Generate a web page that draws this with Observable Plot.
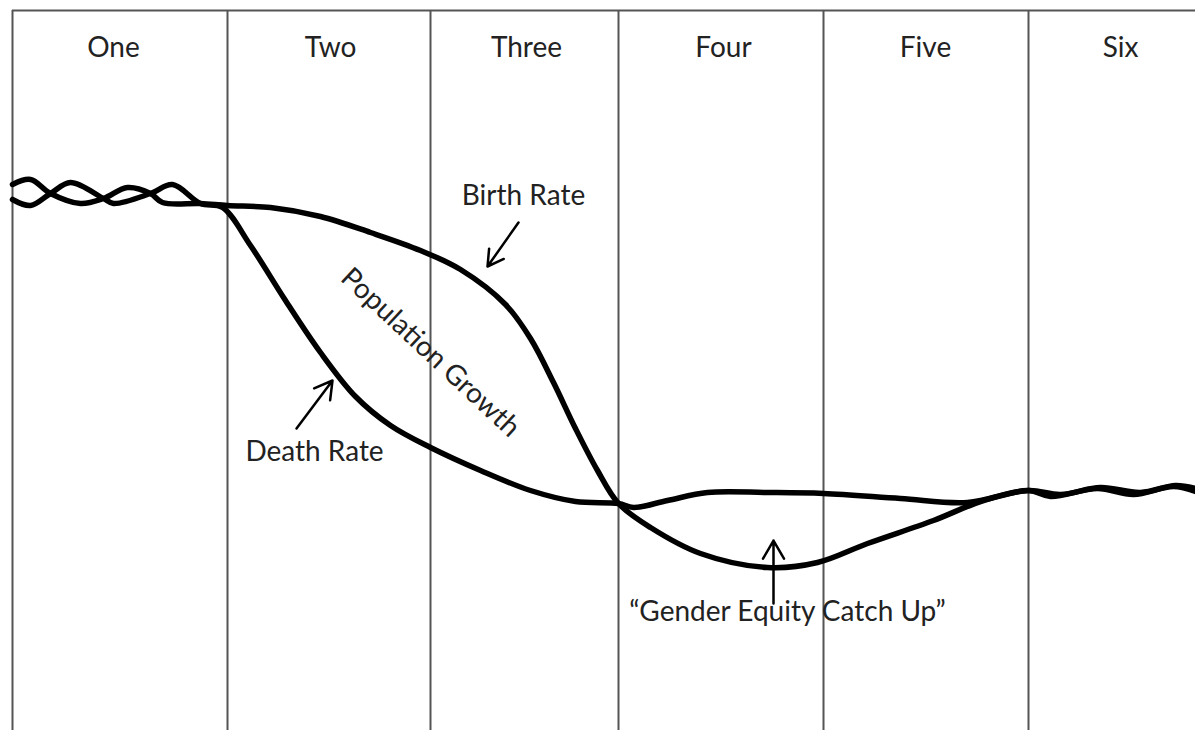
<!DOCTYPE html>
<html>
<head>
<meta charset="utf-8">
<script src="https://cdn.jsdelivr.net/npm/d3@7"></script>
<script src="https://cdn.jsdelivr.net/npm/@observablehq/plot@0.6"></script>
<style>
  html, body { margin: 0; padding: 0; background: #fff; }
  #chart svg { display: block; }
</style>
</head>
<body>
<div id="chart"></div>
<script>
// Stage names and boundaries (time units)
const stageNames = ["One", "Two", "Three", "Four", "Five", "Six"];
const stageLabelX = [113, 330, 526, 723, 925, 1120];
const stageBounds = [12, 227, 430, 618, 823, 1028];

// Birth rate (y in "depth" units, larger = lower rate)
const birthX = [12, 30, 50, 80, 103, 127, 150, 162, 200, 227, 270, 320, 370, 420, 460, 505, 530, 553, 575, 597, 618, 650, 700, 767, 817, 867, 933, 983, 1028, 1060, 1100, 1140, 1175, 1195];
const birthY = [184, 179, 193, 203, 198, 187, 193, 202, 203, 205, 207, 216, 232, 250, 269, 304, 338, 382, 428, 470, 503, 527, 553, 567, 562, 543, 520, 500, 490, 494, 487, 492, 485, 488];

// Death rate
const deathX = [12, 30, 50, 70, 103, 113, 150, 172, 200, 222, 250, 285, 320, 355, 390, 430, 480, 530, 575, 618, 633, 667, 707, 767, 823, 900, 967, 1028, 1050, 1097, 1133, 1173, 1195];
const deathY = [199, 205, 193, 182, 198, 203, 193, 184, 203, 207, 245, 300, 352, 396, 425, 447, 470, 490, 501, 503, 507, 500, 492, 492, 493, 498, 502, 490, 496, 488, 494, 486, 491];

// Annotations
const noteText = ["Birth Rate", "Death Rate", "“Gender Equity Catch Up”"];
const noteX = [523, 314, 787];
const noteY = [196, 452, 612];
const arrowX1 = [518, 296, 773];
const arrowY1 = [222, 428, 603];
const arrowX2 = [487, 332, 773];
const arrowY2 = [266, 380, 540];
const growthLabel = ["Population Growth"];
const growthX = [430];
const growthY = [352];

const birth = birthX.map((x, i) => ({x, y: birthY[i]}));
const death = deathX.map((x, i) => ({x, y: deathY[i]}));
const stages = stageNames.map((name, i) => ({name, x: stageLabelX[i]}));
const notes = noteText.map((t, i) => ({t, x: noteX[i], y: noteY[i]}));
const arrows = arrowX1.map((x1, i) => ({x1, y1: arrowY1[i], x2: arrowX2[i], y2: arrowY2[i]}));
const growth = growthLabel.map((t, i) => ({t, x: growthX[i], y: growthY[i]}));

const font = "Lato, 'Open Sans', sans-serif";

const chart = Plot.plot({
  width: 1195,
  height: 730,
  margin: 0,
  x: {domain: [0, 1195], axis: null},
  y: {domain: [730, 0], axis: null},
  style: {background: "#fff", fontFamily: font},
  marks: [
    Plot.ruleY([10], {x1: 12, x2: 1195, stroke: "#555", strokeWidth: 2}),
    Plot.ruleX(stageBounds, {y1: 10, y2: 730, stroke: "#555", strokeWidth: 2}),
    Plot.text(stages, {x: "x", y: 48, text: "name", fontSize: 28, fill: "#222", fontFamily: font}),
    Plot.line(birth, {x: "x", y: "y", curve: "catmull-rom", stroke: "#000", strokeWidth: 5.5}),
    Plot.line(death, {x: "x", y: "y", curve: "catmull-rom", stroke: "#000", strokeWidth: 5.5}),
    Plot.arrow(arrows, {x1: "x1", y1: "y1", x2: "x2", y2: "y2", stroke: "#000", strokeWidth: 2.5, headLength: 14}),
    Plot.text(notes, {x: "x", y: "y", text: "t", fontSize: 28, fill: "#222", fontFamily: font}),
    Plot.text(growth, {x: "x", y: "y", text: "t", fontSize: 28, rotate: 43, fill: "#222", fontFamily: font})
  ]
});
document.getElementById("chart").appendChild(chart);
</script>
</body>
</html>
